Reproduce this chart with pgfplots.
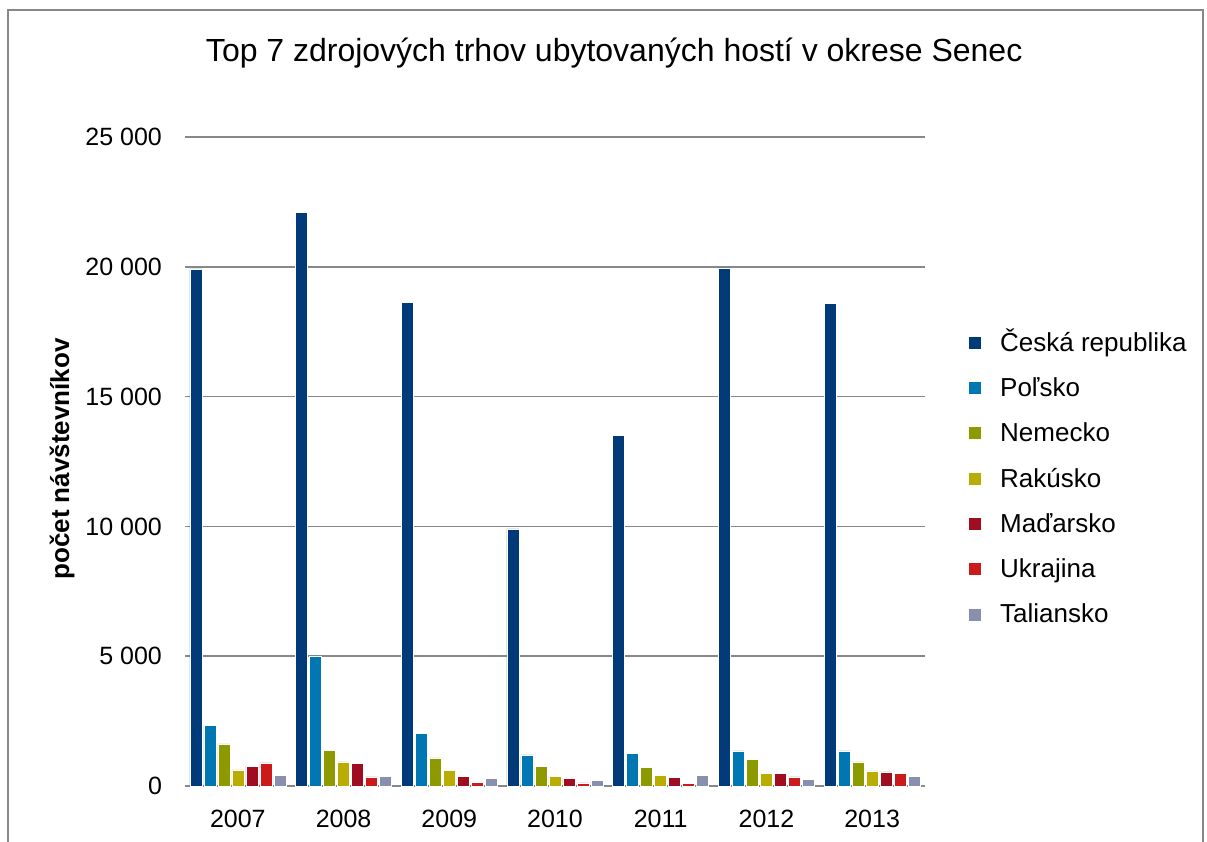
\documentclass[border=0pt]{standalone}
\usepackage{pgfplots}
\pgfplotsset{compat=1.18}
\usepackage{fontspec}
\setmainfont{Liberation Sans}
\definecolor{c1}{RGB}{0,58,120}
\definecolor{c2}{RGB}{0,119,179}
\definecolor{c3}{RGB}{140,154,0}
\definecolor{c4}{RGB}{184,173,0}
\definecolor{c5}{RGB}{160,12,32}
\definecolor{c6}{RGB}{204,26,26}
\definecolor{c7}{RGB}{137,143,174}
\definecolor{gridc}{RGB}{136,136,136}
\begin{document}
\begin{tikzpicture}
\useasboundingbox (-92.5pt,-28pt) rectangle (511pt,393pt);
\draw[gridc,line width=0.8pt] (-88.5pt,-40pt) -- (-88.5pt,388pt) -- (509pt,388pt) -- (509pt,-40pt);
\begin{axis}[
  at={(0,0)}, anchor=south west,
  scale only axis, width=370pt, height=324.5pt,
  ybar=1pt, bar width=6pt,
  xmin=-0.5, xmax=6.5, ymin=0, ymax=25000,
  xtick={0,...,6}, xticklabels={2007,2008,2009,2010,2011,2012,2013},
  ytick={0,5000,10000,15000,20000,25000},
  scaled y ticks=false,
  ymajorgrids, grid style={gridc, line width=0.8pt},
  axis x line*=bottom, axis y line*=left,
  x axis line style={gridc, line width=1pt, -},
  y axis line style={draw=none},
  major tick length=0pt,
  tick label style={font=\fontsize{12.5}{14}\selectfont},
  /pgf/number format/assume math mode=true,
  /pgf/number format/1000 sep={\ },
  yticklabel style={xshift=-8pt},
  xticklabel style={yshift=-8.5pt},
  title={Top 7 zdrojových trhov ubytovaných hostí v okrese Senec},
  title style={at={(axis description cs:0.58,1.111)}, anchor=center, font=\fontsize{16}{18}\selectfont},
  ylabel={počet návštevníkov},
  ylabel style={at={(axis description cs:-0.166,0.504)}, anchor=center, font=\fontsize{13}{15}\selectfont\bfseries},
  legend style={at={(axis description cs:1.057,0.700)}, anchor=north west, draw=none, fill=none,
    font=\fontsize{13}{15}\selectfont, row sep=10.15pt, inner sep=0pt,
    nodes={inner ysep=0pt, text height=9.5pt, text depth=3pt},
    legend cell align=left},
  legend image code/.code={\fill[#1] (0pt,-2.25pt) rectangle (6.5pt,4.25pt); \path (14pt,0pt);},
  every axis plot/.append style={draw=white, line width=0.3pt},
]
\addplot[fill=c1] coordinates {(0,19920) (1,22110) (2,18640) (3,9900) (4,13520) (5,19960) (6,18600)};
\addplot[fill=c2] coordinates {(0,2340) (1,5010) (2,2020) (3,1200) (4,1270) (5,1350) (6,1350)};
\addplot[fill=c3] coordinates {(0,1620) (1,1380) (2,1080) (3,770) (4,730) (5,1040) (6,930)};
\addplot[fill=c4] coordinates {(0,620) (1,930) (2,600) (3,360) (4,420) (5,490) (6,580)};
\addplot[fill=c5] coordinates {(0,760) (1,860) (2,360) (3,300) (4,320) (5,500) (6,540)};
\addplot[fill=c6] coordinates {(0,890) (1,350) (2,150) (3,120) (4,100) (5,350) (6,500)};
\addplot[fill=c7] coordinates {(0,400) (1,360) (2,280) (3,230) (4,420) (5,260) (6,360)};
\legend{Česká republika, Poľsko, Nemecko, Rakúsko, Maďarsko, Ukrajina, Taliansko}
\end{axis}
\end{tikzpicture}
\end{document}
